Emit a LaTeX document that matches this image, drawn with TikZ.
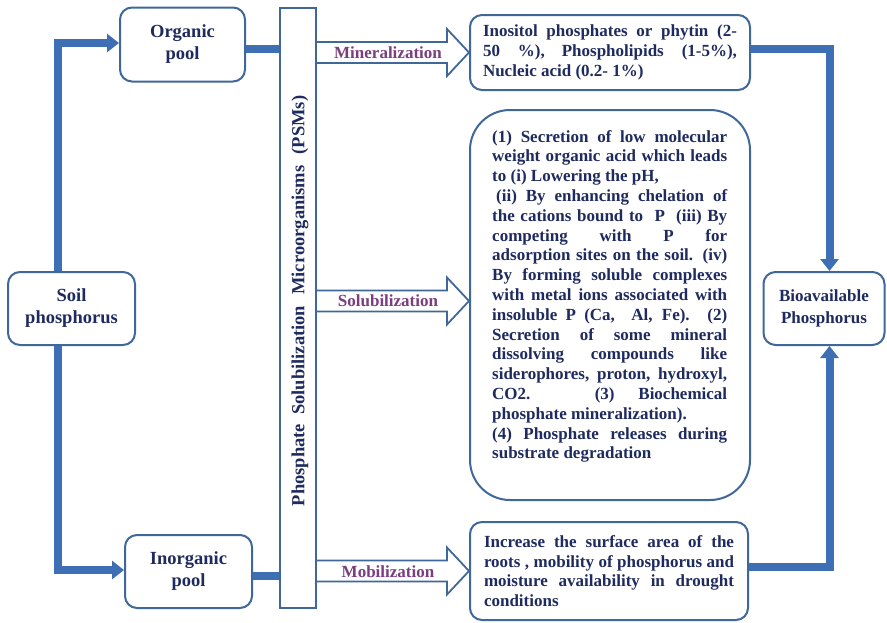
\documentclass[tikz,border=0pt]{standalone}
\usepackage{fontspec}
\setmainfont{Liberation Serif}
\usetikzlibrary{arrows.meta,calc}

\definecolor{flow}{HTML}{3E6EB3}
\definecolor{edge}{HTML}{40679A}
\definecolor{ink}{HTML}{1F2B5E}
\definecolor{lab}{HTML}{7B3E7E}

% one justified line filling the block width, and one plain line
\newlength\blockw
\newcommand\fillline[1]{\hbox to\blockw{#1}}
\newcommand\plainline[1]{\hbox{#1}}

\tikzset{
  box/.style={draw=edge, line width=2pt, rounded corners=12pt, fill=white,
    text=ink, font=\bfseries\fontsize{18.5}{22}\selectfont, align=center, inner sep=0pt},
  body/.style={text=ink, font=\bfseries\fontsize{17}{19.8}\selectfont, inner sep=0pt},
  flowline/.style={draw=flow, line width=8pt, line join=miter},
  flowarrow/.style={flowline, -{Triangle[length=12pt,width=18pt]}},
  blockarrow/.style={draw=edge, line width=1.8pt, fill=white, line join=miter},
  proc/.style={text=lab, font=\bfseries\fontsize{17}{20}\selectfont, inner sep=0pt},
}

\begin{document}
\begin{tikzpicture}[x=1pt, y=-1pt]
\useasboundingbox (0,0) rectangle (887,622);

% ---- nodes ----
\node[box, minimum width=127pt, minimum height=73pt] (soil) at (71.5,308.5) {Soil\\phosphorus};
\node[box, minimum width=125pt, minimum height=74pt] (organic) at (182.5,44.5) {Organic\\pool};
\node[box, minimum width=127pt, minimum height=73pt] (inorganic) at (188.5,571.5) {Inorganic\\pool};

\node[draw=edge, line width=2pt, fill=white, minimum width=36pt, minimum height=600pt, inner sep=0pt] (psm) at (298,308) {};
\node[rotate=90, text=ink, font=\bfseries\fontsize{18.5}{22}\selectfont, inner sep=0pt] (psmtext) at (300,301)
  {Phosphate\hspace{0.5em}Solubilization\hspace{0.6em}Microorganisms\hspace{0.6em}(PSMs)};

\node[box, body, minimum width=280pt, minimum height=75pt] (mineral) at (610,52.5) {\vbox{%
  \setlength\blockw{254pt}%
  \fillline{Inositol phosphates or phytin (2-}%
  \fillline{50 \%),\quad Phospholipids (1-5\%),}%
  \plainline{Nucleic acid (0.2- 1\%)}}};

\node[box, rounded corners=40pt, minimum width=280pt, minimum height=390pt] (solub) at (610,305) {};
\node[body, anchor=north west] (solubtext) at (492,130) {\vbox{%
  \setlength\blockw{235pt}%
  \fillline{(1) Secretion of low molecular}%
  \fillline{weight organic acid which leads}%
  \plainline{to (i) Lowering the pH,}%
  \fillline{\kern4pt(ii) By enhancing chelation of}%
  \fillline{the cations bound to \ P \ (iii) By}%
  \fillline{competing with P for}%
  \fillline{adsorption sites on the soil. (iv)}%
  \fillline{By forming soluble complexes}%
  \fillline{with metal ions associated with}%
  \fillline{insoluble P (Ca,\ \ Al, Fe). (2)}%
  \fillline{Secretion of some mineral}%
  \fillline{dissolving compounds like}%
  \fillline{siderophores, proton, hydroxyl,}%
  \fillline{CO2. (3) Biochemical}%
  \plainline{phosphate mineralization).}%
  \fillline{(4) Phosphate releases during}%
  \plainline{substrate degradation}}};

\node[box, body, minimum width=278pt, minimum height=98pt] (mobil) at (609,571) {\vbox{%
  \setlength\blockw{250pt}%
  \fillline{Increase the surface area of the}%
  \fillline{roots , mobility of phosphorus and}%
  \fillline{moisture availability in drought}%
  \plainline{conditions}}};

\node[box, font=\bfseries\fontsize{17}{22}\selectfont, minimum width=121pt, minimum height=73pt] (bio) at (824,308.5) {Bioavailable\\Phosphorus};

% ---- attachment points of the thick connectors ----
\coordinate (lb) at (57.5,308);
\coordinate (rb) at (829.5,308);
\coordinate (orgin) at ([yshift=1.5pt]organic.west);
\coordinate (inorgin) at ([yshift=1.5pt]inorganic.west);
\coordinate (orgout) at ([yshift=-4.5pt]organic.east);
\coordinate (inorgout) at ([yshift=-4.5pt]inorganic.east);
\coordinate (minout) at ([yshift=3.5pt]mineral.east);
\coordinate (mobout) at ([yshift=4pt]mobil.east);
\coordinate (solin) at ([yshift=4pt]solub.west);

% ---- thick connectors ----
\draw[flowarrow] (soil.north -| lb) -- (lb |- orgin) -- (orgin);
\draw[flowarrow] (soil.south -| lb) -- (lb |- inorgin) -- (inorgin);

\draw[flowline] (orgout) -- (orgout -| psm.west);
\draw[flowline] (inorgout) -- (inorgout -| psm.west);

\draw[flowarrow] (minout) -- (minout -| rb) -- (rb |- bio.north);
\draw[flowarrow] (mobout) -- (mobout -| rb) -- (rb |- bio.south);

% ---- block arrows from the PSM bar ----
\draw[blockarrow] let \p1=(psm.east), \p2=(mineral.west) in
  (\x1,\y2+10.5pt) -- (\x2-22pt,\y2+10.5pt) -- (\x2-22pt,\y2+23.5pt) -- (\p2)
  -- (\x2-22pt,\y2-23.5pt) -- (\x2-22pt,\y2-10.5pt) -- (\x1,\y2-10.5pt);
\draw[blockarrow] let \p1=(psm.east), \p2=(solin) in
  (\x1,\y2+10.5pt) -- (\x2-22pt,\y2+10.5pt) -- (\x2-22pt,\y2+23.5pt) -- (\p2)
  -- (\x2-22pt,\y2-23.5pt) -- (\x2-22pt,\y2-10.5pt) -- (\x1,\y2-10.5pt);
\draw[blockarrow] let \p1=(psm.east), \p2=(mobil.west) in
  (\x1,\y2+10.5pt) -- (\x2-22pt,\y2+10.5pt) -- (\x2-22pt,\y2+23.5pt) -- (\p2)
  -- (\x2-22pt,\y2-23.5pt) -- (\x2-22pt,\y2-10.5pt) -- (\x1,\y2-10.5pt);

\node[proc] (minlab) at (388,52.5) {Mineralization};
\node[proc] (sollab) at (388,301) {Solubilization};
\node[proc] (moblab) at (388,572) {Mobilization};

\end{tikzpicture}
\end{document}
